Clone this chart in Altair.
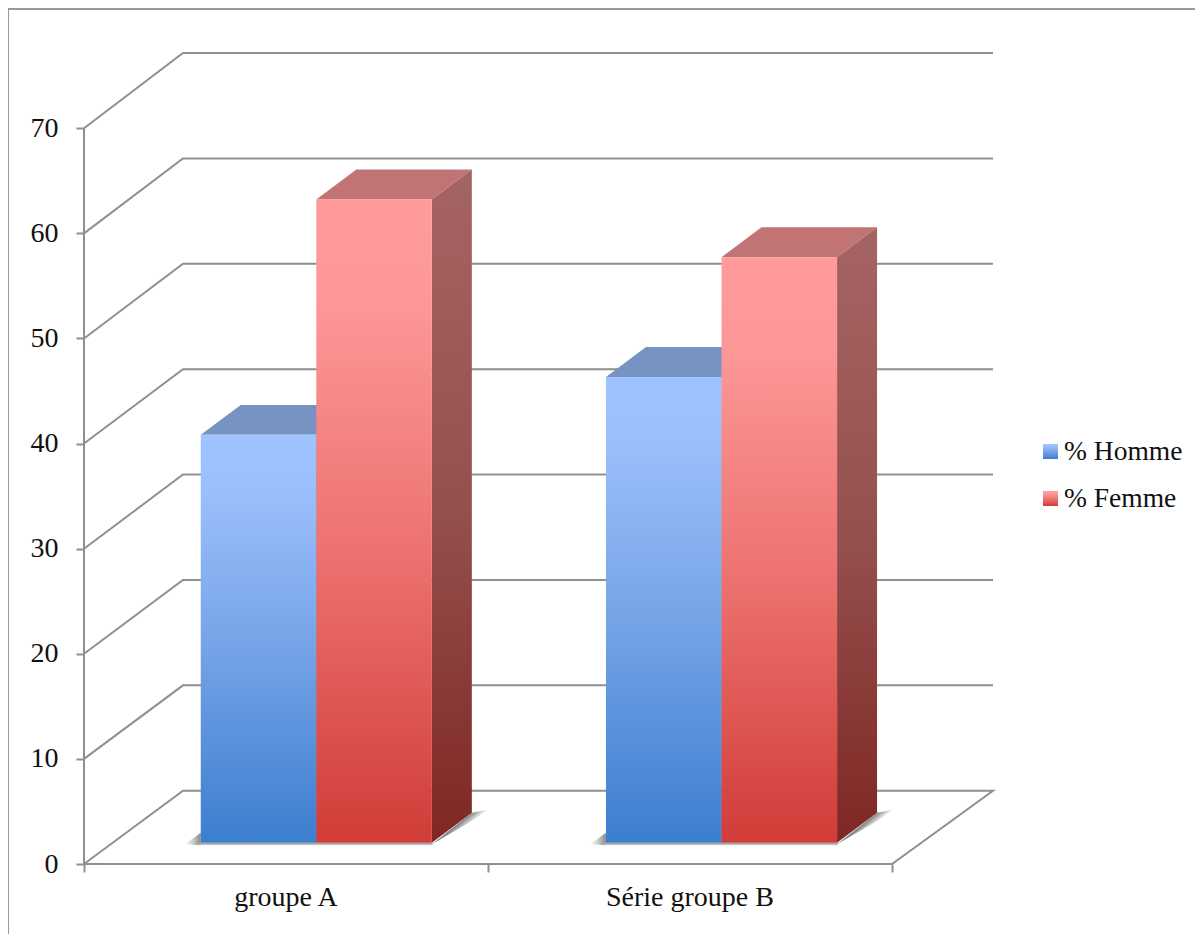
import altair as alt
import pandas as pd

# --- values ---
groups = ["groupe A", "Série groupe B"]
series = ["% Homme", "% Femme"]
homme = [38.8, 44.3]
femme = [61.2, 55.7]
y_ticks = [0, 10, 20, 30, 40, 50, 60, 70]

# bar position on the floor, in group units
bar_left = {"% Homme": [0.289, 1.292], "% Femme": [0.575, 1.578]}
bar_width = 0.286
bar_base = 2.03       # floor offset of the bars' front edge
bar_dx, bar_dy = 0.099, 2.85    # depth of a bar
wall_dx, wall_dy = 0.245, 6.97  # depth of the chart box
wall_stretch = 1.0027           # back wall is very slightly taller than the front
x_max, y_max = 2.25, 77.16

FONT = "Liberation Serif"
GRID = "#8f8f8f"
xs = alt.Scale(domain=[0, x_max], nice=False, zero=False)
ys = alt.Scale(domain=[0, y_max], nice=False, zero=False)
XA = alt.Axis(values=[0, 1, 2], labels=False, title=None, grid=False, domain=False,
              tickColor=GRID, tickWidth=2, tickSize=8)
YA = alt.Axis(values=y_ticks, title=None, grid=False, domain=False, tickColor=GRID,
              tickWidth=2, tickSize=8, labelFont=FONT, labelFontSize=28,
              labelColor="#111111", labelPadding=18)


def grad(stops, x1=0, y1=0, x2=0, y2=1):
    return alt.Gradient(
        gradient="linear", x1=x1, y1=y1, x2=x2, y2=y2,
        stops=[alt.GradientStop(offset=o, color=c) for o, c in stops],
    )


# --- box lines ---
rows = []
for g in y_ticks[1:]:
    back = g * wall_stretch + wall_dy
    for i, (x, y) in enumerate([(0, g), (wall_dx, back), (x_max, back)]):
        rows.append(dict(k=f"g{g}", i=i, x=x, y=y))
for i, (x, y) in enumerate([(0, 0), (wall_dx, wall_dy), (x_max, wall_dy), (2, 0), (0, 0)]):
    rows.append(dict(k="floor", i=i, x=x, y=y))
for i, (x, y) in enumerate([(0, 0), (0, 70)]):
    rows.append(dict(k="axis", i=i, x=x, y=y))
lines = (
    alt.Chart(pd.DataFrame(rows))
    .mark_line(color=GRID, strokeWidth=2, interpolate="linear")
    .encode(
        x=alt.X("x:Q", scale=xs, axis=XA),
        y=alt.Y("y:Q", scale=ys, axis=YA),
        detail="k:N",
        order="i:Q",
    )
)

# --- geometry tables derived from the values ---
front_rows, side_rows, top_rows = [], [], []
shadow_rows, left_shadow_rows, under_rows = [], [], []
for s, vals in zip(series, [homme, femme]):
    for g, left, v in zip(groups, bar_left[s], vals):
        r = left + bar_width
        t = bar_base + v
        key = f"{s}{g}"
        front_rows.append(dict(s=s, x=left, x2=r, y=bar_base, y2=t))
        side_rows += [
            dict(s=s, k=key, x=r, y=t, y2=bar_base),
            dict(s=s, k=key, x=r + bar_dx, y=t + bar_dy, y2=bar_base + bar_dy),
        ]
        top_rows += [
            dict(s=s, k=key, y=t, x=left, x2=r),
            dict(s=s, k=key, y=t + bar_dy, x=left + bar_dx, x2=r + bar_dx),
        ]
for g, left, r in zip(groups, bar_left["% Homme"], [l + bar_width for l in bar_left["% Femme"]]):
    far = r + bar_dx + 0.042
    b = bar_base - 0.15
    shadow_rows += [
        dict(k=g, x=r, y=b, y2=b),
        dict(k=g, x=r + bar_dx, y=bar_base + bar_dy, y2=b + (bar_dy + 0.3) * bar_dx / (far - r)),
        dict(k=g, x=far, y=bar_base + bar_dy + 0.3, y2=bar_base + bar_dy + 0.3),
    ]
    left_shadow_rows += [
        dict(k=g, x=left - 0.04, y=bar_base - 0.15, y2=bar_base - 0.15),
        dict(k=g, x=left, y=bar_base + 0.95, y2=bar_base - 0.25),
    ]
    under_rows.append(dict(x=left - 0.005, x2=r + 0.002, y=bar_base, y2=bar_base - 0.3))

front = pd.DataFrame(front_rows)
side = pd.DataFrame(side_rows)
top = pd.DataFrame(top_rows)


def area_xy(df, fill):
    return (
        alt.Chart(df)
        .mark_area(fill=fill, interpolate="linear", line=False)
        .encode(
            x=alt.X("x:Q", scale=xs, axis=XA),
            y=alt.Y("y:Q", scale=ys, axis=YA),
            y2="y2:Q",
            detail="k:N",
        )
    )


def rect_xy(df, fill):
    return (
        alt.Chart(df)
        .mark_rect(fill=fill)
        .encode(
            x=alt.X("x:Q", scale=xs, axis=XA),
            x2="x2:Q",
            y=alt.Y("y:Q", scale=ys, axis=YA),
            y2="y2:Q",
        )
    )


shadow = area_xy(
    pd.DataFrame(shadow_rows),
    grad([(0, "#6e6e6e"), (0.3, "#9a9a9a"), (1, "#ffffff")], x1=0.5, y1=0.315, x2=0.675, y2=0.443),
)
left_shadow = area_xy(
    pd.DataFrame(left_shadow_rows),
    grad([(0, "#ffffff"), (0.5, "#cfcfcf"), (1, "#8a8a8a")], x1=0, y1=0, x2=1, y2=0),
)
under = rect_xy(
    pd.DataFrame(under_rows),
    grad([(0, "#8f8f8f"), (0.5, "#b5b5b5"), (1, "#ffffff")]),
)

STYLE = {
    "% Homme": dict(
        front=[(0, "#9fc3ff"), (0.12, "#9cc0fd"), (0.5, "#78a5e8"), (1, "#3c7ecf")],
        side=[(0, "#6b89b8"), (1, "#2a5590")],
        top="#7693c2",
    ),
    "% Femme": dict(
        front=[(0, "#ff9b9b"), (0.15, "#fe9898"), (0.55, "#ec726f"), (1, "#d13c38")],
        side=[(0, "#a56464"), (0.5, "#95504e"), (1, "#7f2723")],
        top="#c27474",
    ),
}

bars = []
for s in series:
    st = STYLE[s]
    bars.append(
        alt.Chart(top[top.s == s])
        .mark_area(orient="horizontal", fill=st["top"], interpolate="linear")
        .encode(
            y=alt.Y("y:Q", scale=ys, axis=YA),
            x=alt.X("x:Q", scale=xs, axis=XA),
            x2="x2:Q",
            detail="k:N",
        )
    )
    bars.append(area_xy(side[side.s == s], grad(st["side"])))
    bars.append(rect_xy(front[front.s == s], grad(st["front"])))

# --- category labels ---
cat = (
    alt.Chart(pd.DataFrame({"g": groups, "x": [0.5, 1.5]}))
    .mark_text(font=FONT, fontSize=28, color="#111111", baseline="middle", align="center")
    .encode(x=alt.X("x:Q", scale=xs, axis=XA), y=alt.value(845), text="g:N")
)

# --- legend ---
legend = []
for s, top_px in zip(series, [391, 438]):
    d = pd.DataFrame({"s": [s]})
    legend.append(
        alt.Chart(d)
        .mark_rect(fill=grad(STYLE[s]["front"]))
        .encode(x=alt.value(959), x2=alt.value(974), y=alt.value(top_px), y2=alt.value(top_px + 15))
    )
    legend.append(
        alt.Chart(d)
        .mark_text(font=FONT, fontSize=27.5, color="#111111", align="left", baseline="middle")
        .encode(x=alt.value(980), y=alt.value(top_px + 8), text="s:N")
    )

# --- outer frame ---
frame = [
    alt.Chart(pd.DataFrame({"a": [0]})).mark_rule(color="#9a9a9a", strokeWidth=2)
    .encode(x=alt.value(-76), y=alt.value(-44), y2=alt.value(881)),
    alt.Chart(pd.DataFrame({"a": [0]})).mark_rule(color="#9a9a9a", strokeWidth=2)
    .encode(x=alt.value(-76), x2=alt.value(1111), y=alt.value(-44)),
]

chart = (
    alt.layer(*frame, lines, shadow, left_shadow, under, *bars, cat, *legend)
    .properties(
        width=909,
        height=811,
        autosize=alt.AutoSizeParams(type="none"),
        padding={"left": 76, "top": 45, "right": 202, "bottom": 70},
    )
    .configure_view(stroke=None)
)

chart.save("out.html", embed_options={"renderer": "svg", "actions": False})
